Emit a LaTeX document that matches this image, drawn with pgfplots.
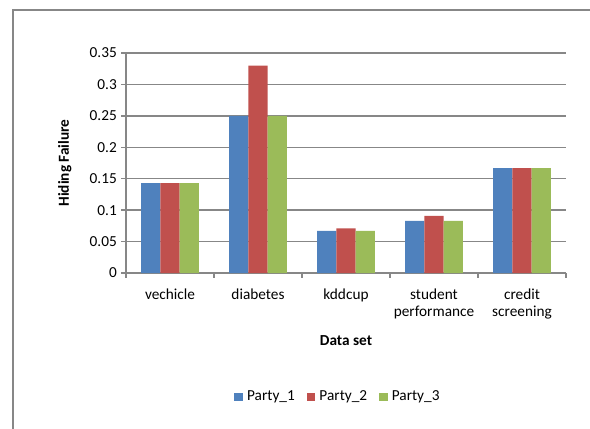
\documentclass[border=0pt]{standalone}
\usepackage{fontspec}
\setmainfont{Carlito}
\usepackage{pgfplots}
\pgfplotsset{compat=1.18}
\definecolor{cA}{HTML}{4F81BD}
\definecolor{cB}{HTML}{C0504D}
\definecolor{cC}{HTML}{9BBB59}
\definecolor{gridgray}{HTML}{878787}
\definecolor{framegray}{HTML}{878787}
\begin{document}
\fontsize{15.3}{17}\selectfont
\begin{tikzpicture}
\useasboundingbox (0pt,0pt) rectangle (590pt,429pt);
\draw[line width=2pt, color=framegray] (12.7pt,-10pt) -- (12.7pt,418.5pt) -- (600pt,418.5pt);
\begin{axis}[
  at={(126pt,156pt)}, anchor=south west,
  scale only axis, width=440pt, height=220pt,
  font=\fontsize{15.3}{17}\selectfont,
  xmin=0, xmax=5, ymin=0, ymax=0.35,
  axis x line=bottom, axis y line=left,
  axis line style={draw=gridgray, line width=1.3pt, -},
  ybar=0pt, bar width=19.3pt,
  xtick={0.5,1.5,2.5,3.5,4.5},
  xticklabels={vechicle, diabetes, kddcup, {student\\performance}, {credit\\screening}},
  major x tick style={draw=none},
  minor xtick={0,1,2,3,4,5},
  minor x tick style={draw=gridgray, line width=1.3pt},
  minor tick length=4.5pt,
  xticklabel style={align=center, inner sep=0pt, anchor=north, yshift=-11pt},
  ytick={0,0.05,...,0.35},
  yticklabels={0,0.05,0.1,0.15,0.2,0.25,0.3,0.35},
  ymajorgrids,
  major grid style={draw=gridgray, line width=1.3pt},
  major y tick style={draw=gridgray, line width=1.3pt},
  major tick length=5pt,
  tick align=outside,
  yticklabel style={inner sep=0pt, anchor=east, xshift=-4pt},
  xlabel={\bfseries Data set},
  xlabel style={at={(axis description cs:0.5,-0.309)}, anchor=center},
  ylabel={\bfseries Hiding Failure},
  ylabel style={at={(axis description cs:-0.139,0.5)}, anchor=center, rotate=0},
  legend style={at={(axis description cs:0.4795,-0.564)}, anchor=center, draw=none,
    legend columns=3, /tikz/every even column/.append style={column sep=12pt},
    inner sep=0pt, nodes={inner sep=0pt}},
  legend image code/.code={\fill[#1, draw=none] (0pt,-4.3pt) rectangle (8.7pt,4.4pt); \path (12.7pt,0pt);},
  legend cell align=left,
  clip=false,
]
\addplot[fill=cA, draw=none] coordinates {(0.5,0.143) (1.5,0.25) (2.5,0.067) (3.5,0.083) (4.5,0.167)};
\addplot[fill=cB, draw=none] coordinates {(0.5,0.143) (1.5,0.33) (2.5,0.071) (3.5,0.091) (4.5,0.167)};
\addplot[fill=cC, draw=none] coordinates {(0.5,0.143) (1.5,0.25) (2.5,0.067) (3.5,0.083) (4.5,0.167)};
\legend{Party\_1, Party\_2, Party\_3}
\end{axis}
\end{tikzpicture}
\end{document}
